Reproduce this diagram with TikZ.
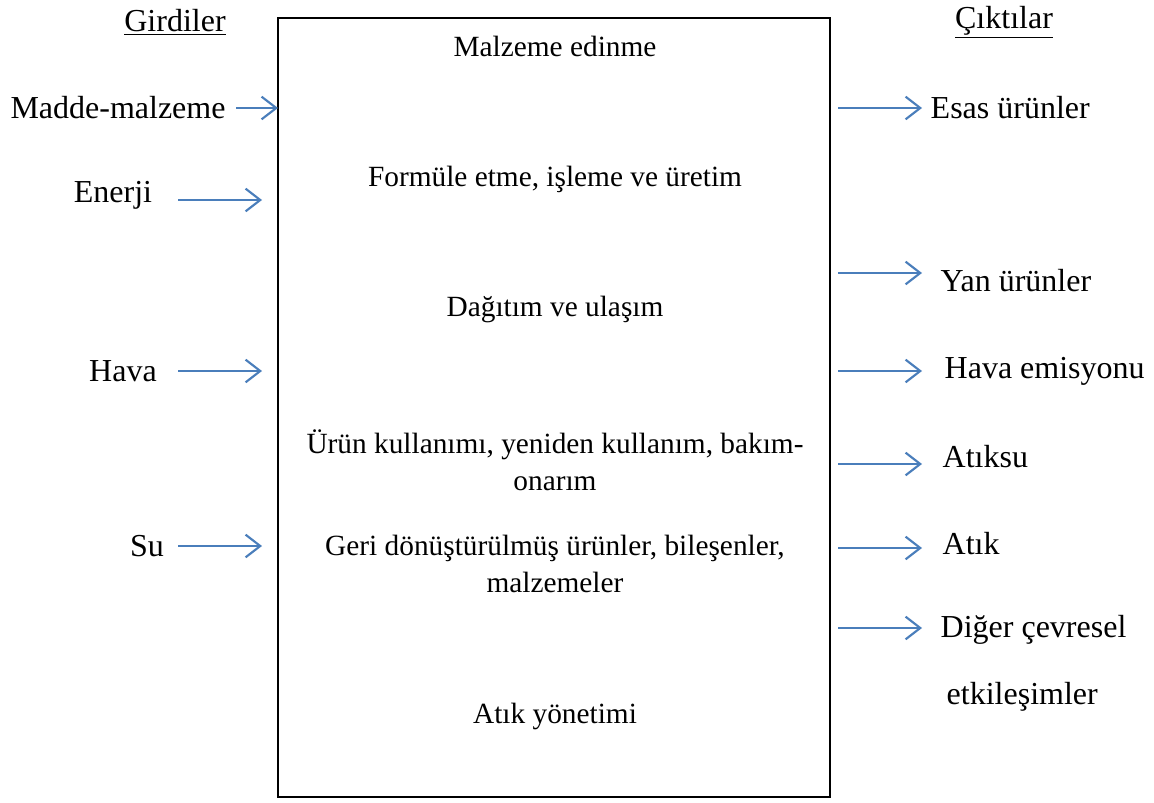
\documentclass[tikz,border=0pt]{standalone}
\usepackage{fontspec}
\setmainfont{Liberation Serif}
\usetikzlibrary{arrows.meta,positioning}
\definecolor{lcblue}{RGB}{74,126,187}

\begin{document}
\begin{tikzpicture}[x=.75pt,y=-.75pt,font=\fontsize{24}{28}\selectfont,
    >={Straight Barb[length=11pt,width=17pt]},
    flow/.style={->,lcblue,line width=1.6pt},
    stage/.style={font=\fontsize{22}{27.75}\selectfont,align=center},
    outlbl/.style={anchor=west}]
  \useasboundingbox (0,0) rectangle (1154,803);
  % life cycle box
  \coordinate (boxNW) at (278,18);
  \coordinate (boxSE) at (830,797);
  \draw[line width=1.5pt] (boxNW) rectangle (boxSE);
  \node[stage] (edinme) at (555,46) {Malzeme edinme};
  \node[stage] (uretim) at (555,179) {Formüle etme, işleme ve üretim};
  \node[stage] (ulasim) at (555,309) {Dağıtım ve ulaşım};
  \node[stage] (kullanim) at (555,460) {Ürün kullanımı, yeniden kullanım, bakım-\\onarım};
  \node[stage] (geridonusum) at (555,564) {Geri dönüştürülmüş ürünler, bileşenler,\\malzemeler};
  \node[stage] (yonetim) at (555,716) {Atık yönetimi};
  % headings
  \node (girdiler) at (175,22) {\underline{Girdiler}};
  \node (ciktilar) at (1004,22) {\underline{Çıktılar}};
  % inputs
  \node (madde) at (118,108) {Madde-malzeme};
  \node (enerji) at (113,195) {Enerji};
  \node (hava) at (123,371) {Hava};
  \node (su) at (147,546) {Su};
  \coordinate (maddeA) at (236,108); \coordinate (maddeB) at (278,108);
  \coordinate (enerjiA) at (178,200); \coordinate (enerjiB) at (262,200);
  \coordinate (havaA) at (178,371); \coordinate (havaB) at (262,371);
  \coordinate (suA) at (178,546); \coordinate (suB) at (262,546);
  \draw[flow] (maddeA) -- (maddeB);
  \draw[flow] (enerjiA) -- (enerjiB);
  \draw[flow] (havaA) -- (havaB);
  \draw[flow] (suA) -- (suB);
  % outputs
  \node[outlbl] (esas) at (926,108) {Esas ürünler};
  \node[outlbl] (yan) at (936,281) {Yan ürünler};
  \node[outlbl] (emisyon) at (940,371) {Hava emisyonu};
  \node[outlbl] (atiksu) at (938,457) {Atıksu};
  \node[outlbl] (atik) at (938,544) {Atık};
  \node[outlbl] (diger) at (936,630) {Diğer çevresel};
  \node[outlbl] (etki) at (942,697) {etkileşimler};
  \coordinate (esasA) at (838,108); \coordinate (esasB) at (922,108);
  \coordinate (yanA) at (838,273); \coordinate (yanB) at (922,273);
  \coordinate (emisyonA) at (838,371); \coordinate (emisyonB) at (922,371);
  \coordinate (atiksuA) at (838,464); \coordinate (atiksuB) at (922,464);
  \coordinate (atikA) at (838,548); \coordinate (atikB) at (922,548);
  \coordinate (digerA) at (838,628); \coordinate (digerB) at (922,628);
  \draw[flow] (esasA) -- (esasB);
  \draw[flow] (yanA) -- (yanB);
  \draw[flow] (emisyonA) -- (emisyonB);
  \draw[flow] (atiksuA) -- (atiksuB);
  \draw[flow] (atikA) -- (atikB);
  \draw[flow] (digerA) -- (digerB);
\end{tikzpicture}
\end{document}
